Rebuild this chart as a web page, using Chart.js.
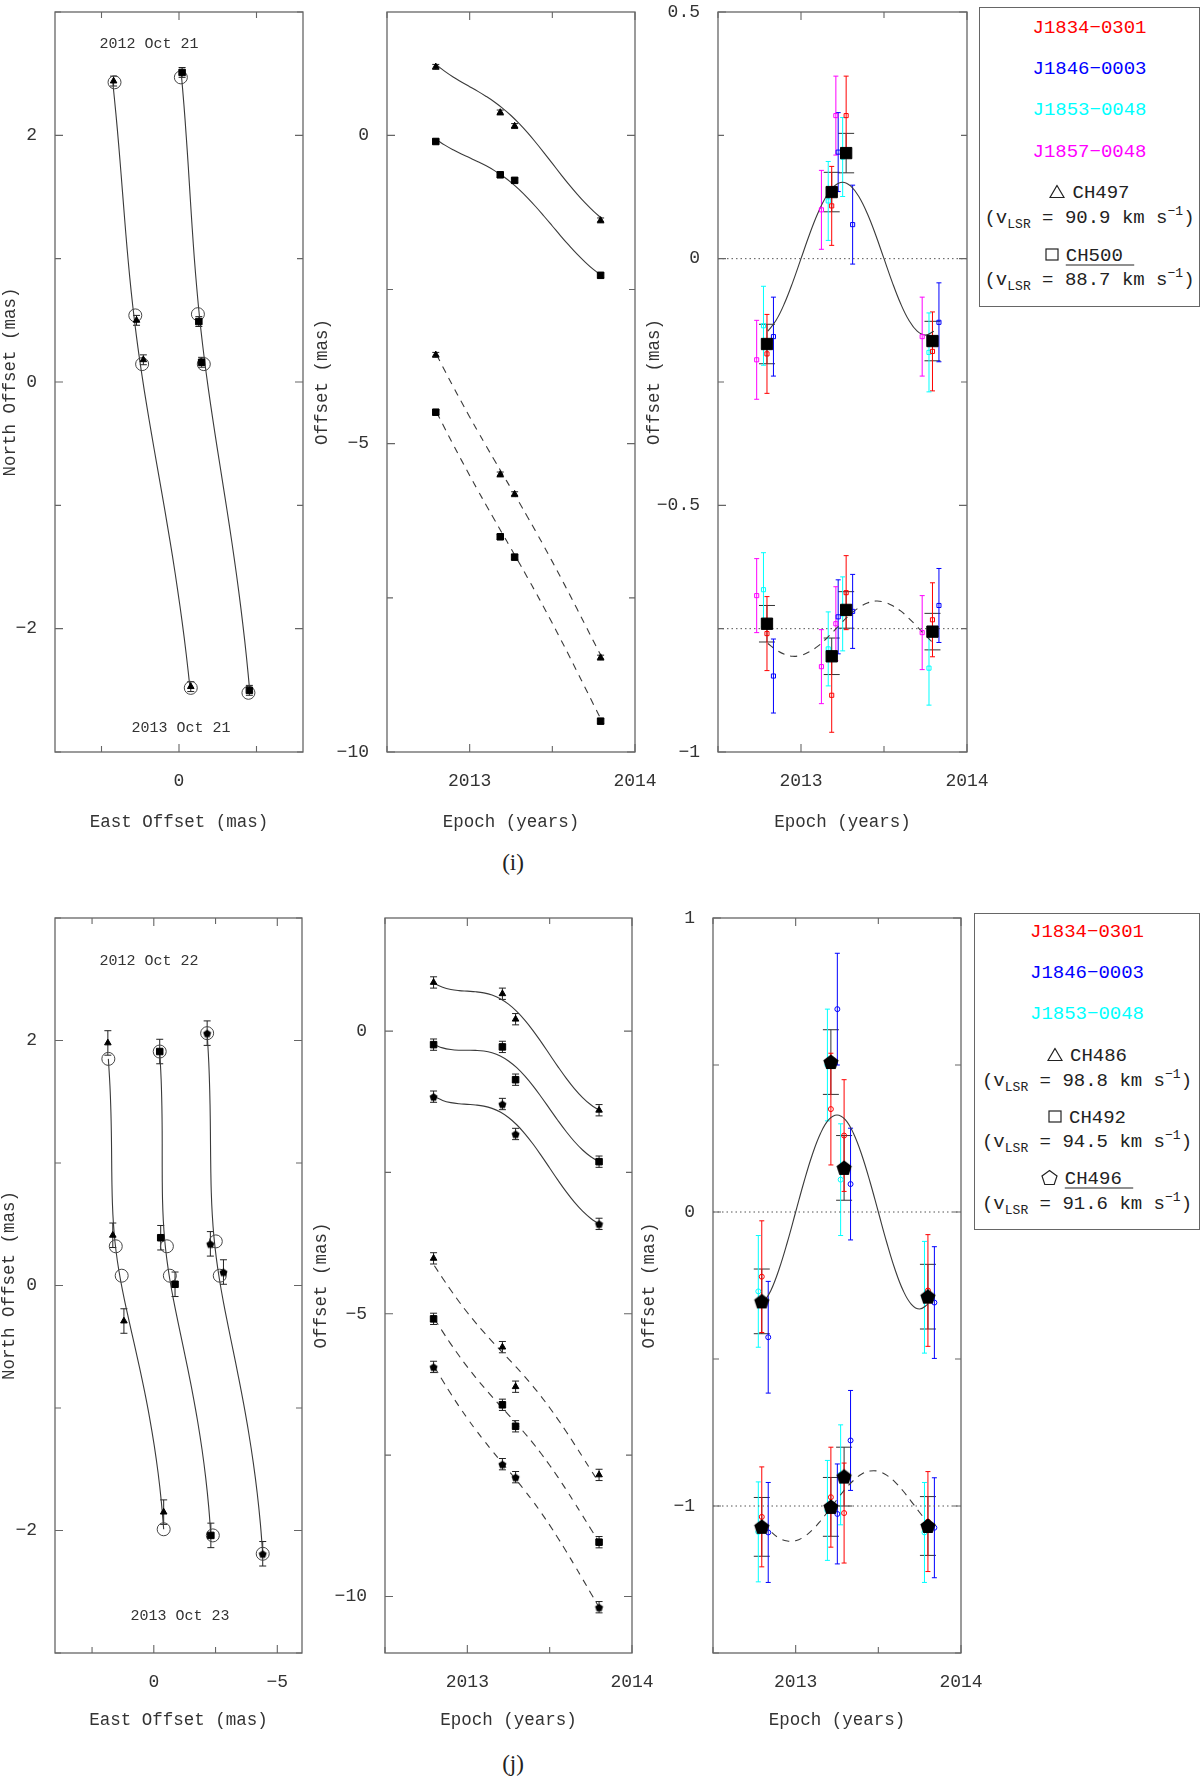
<!DOCTYPE html>
<html><head><meta charset="utf-8">
<script src="https://cdn.jsdelivr.net/npm/chart.js@4.4.1/dist/chart.umd.min.js"></script>
<style>
body{margin:0;background:#fff;width:1200px;height:1781px;position:relative;overflow:hidden;font-family:"Liberation Mono",monospace;color:#222}
.note{position:absolute;white-space:nowrap;transform:translate(-50%,-50%);font:15px "Liberation Mono",monospace;color:#333;line-height:1}
.plab{position:absolute;white-space:nowrap;transform:translate(-50%,-50%);font:23px "Liberation Serif",serif;color:#222;line-height:1}
.legend{position:absolute;border:1.3px solid #666;box-sizing:border-box;background:#fff}
.lrow{position:absolute;left:0;width:100%;text-align:center;transform:translateY(-50%);font:19px "Liberation Mono",monospace;line-height:1;white-space:nowrap}
.sub{font-size:13px;position:relative;top:5px}
.sup{font-size:13px;position:relative;top:-8px}
.ul{text-decoration:underline;text-underline-offset:4px;text-decoration-thickness:1px}
</style></head><body>
<script>
// ================= DATA : panel (i) =================
const modelT = [2012.80,2012.85,2012.90,2012.95,2013.00,2013.05,2013.10,2013.15,2013.20,2013.25,2013.30,2013.35,2013.40,2013.45,2013.50,2013.55,2013.60,2013.65,2013.70,2013.75,2013.80];
const epochsI = [2012.795, 2013.185, 2013.272, 2013.792];
// CH497 (triangles)
const ch497East  = [2.11, 1.37, 1.15, -0.38];
const ch497North = [2.44, 0.50, 0.18, -2.47];
const ch497FitEast  = [2.08, 1.41, 1.19, -0.38];
const ch497FitNorth = [2.43, 0.54, 0.145, -2.48];
const ch497ModelEast  = [2.140,2.038,1.947,1.866,1.789,1.713,1.631,1.541,1.438,1.322,1.189,1.043,0.884,0.717,0.544,0.372,0.204,0.046,-0.101,-0.234,-0.350];
const ch497ModelNorth = [2.440,2.182,1.927,1.678,1.434,1.196,0.961,0.731,0.502,0.275,0.045,-0.188,-0.424,-0.666,-0.913,-1.166,-1.422,-1.683,-1.945,-2.209,-2.470];
// CH500 (squares)
const ch500East  = [-0.10, -0.64, -0.73, -2.27];
const ch500North = [2.51, 0.49, 0.16, -2.50];
const ch500FitEast  = [-0.06, -0.61, -0.80, -2.24];
const ch500FitNorth = [2.47, 0.55, 0.145, -2.52];
const ch500ModelEast  = [-0.070,-0.159,-0.235,-0.303,-0.365,-0.428,-0.495,-0.572,-0.660,-0.763,-0.881,-1.014,-1.158,-1.312,-1.470,-1.629,-1.782,-1.927,-2.059,-2.178,-2.280];
const ch500ModelNorth = [2.510,2.247,1.987,1.733,1.484,1.241,1.001,0.766,0.532,0.300,0.065,-0.173,-0.414,-0.661,-0.913,-1.171,-1.432,-1.698,-1.965,-2.234,-2.500];
const posErrI = [0.04, 0.04, 0.04, 0.04];
const eastShiftI  = [-1, 0];      // display offsets in the epoch panel
const northShiftI = [-6, -7];
// parallax panel (i)
const parEastI  = [-0.147,-0.125,-0.091,-0.048,0.000,0.048,0.091,0.125,0.147,0.155,0.147,0.125,0.091,0.048,0.000,-0.048,-0.091,-0.125,-0.147,-0.155,-0.147];
const parNorthI = [-0.030,-0.043,-0.052,-0.056,-0.054,-0.047,-0.036,-0.021,-0.004,0.014,0.030,0.043,0.052,0.056,0.054,0.047,0.036,0.021,0.004,-0.014,-0.030];
const parNorthShiftI = -0.75;
const resEastAllI  = [-0.173, 0.135, 0.214, -0.167];
const resNorthAllI = [0.010, -0.056, 0.038, -0.006];
const resEastJ1834I  = [-0.193, 0.107, 0.290, -0.188];
const resNorthJ1834I = [-0.010, -0.135, 0.073, 0.018];
const resEastJ1846I  = [-0.158, 0.216, 0.069, -0.129];
const resNorthJ1846I = [-0.096, 0.024, 0.035, 0.047];
const resEastJ1853I  = [-0.136, 0.117, 0.206, -0.190];
const resNorthJ1853I = [0.079, -0.041, 0.030, -0.080];
const resEastJ1857I  = [-0.205, 0.099, 0.290, -0.158];
const resNorthJ1857I = [0.067, -0.077, 0.010, -0.008];
const resErrAllEastI = [0.040,0.040,0.040,0.040];
const resErrAllNorthI = [0.037,0.037,0.037,0.037];
const resErrQsoEastI = [0.080,0.080,0.080,0.080];
const resErrQsoNorthI = [0.075,0.075,0.075,0.075];

// ================= DATA : panel (j) =================
const epochsJ = [2012.795, 2013.213, 2013.293, 2013.800];
const ch486East  = [1.86, 1.66, 1.21, -0.40];
const ch486North = [1.98, 0.41, -0.29, -1.85];
const ch486FitEast  = [1.84, 1.54, 1.30, -0.40];
const ch486FitNorth = [1.85, 0.32, 0.08, -1.99];
const ch486ModelEast  = [1.840,1.775,1.736,1.716,1.706,1.696,1.676,1.637,1.572,1.476,1.348,1.189,1.004,0.800,0.586,0.372,0.168,-0.017,-0.176,-0.304,-0.400];
const ch486ModelNorth = [1.850,1.629,1.415,1.213,1.022,0.843,0.674,0.513,0.357,0.202,0.046,-0.117,-0.287,-0.469,-0.662,-0.867,-1.082,-1.305,-1.533,-1.762,-1.990];
const ch492East  = [-0.24, -0.28, -0.86, -2.31];
const ch492North = [1.91, 0.39, 0.01, -2.04];
const ch492FitEast  = [-0.24, -0.53, -0.65, -2.39];
const ch492FitNorth = [1.91, 0.32, 0.08, -2.04];
const ch492ModelEast  = [-0.240,-0.297,-0.327,-0.339,-0.340,-0.342,-0.353,-0.384,-0.440,-0.528,-0.647,-0.798,-0.974,-1.170,-1.375,-1.581,-1.776,-1.953,-2.103,-2.223,-2.310];
const ch492ModelNorth = [1.910,1.684,1.464,1.257,1.060,0.876,0.701,0.535,0.373,0.213,0.051,-0.118,-0.293,-0.481,-0.679,-0.890,-1.110,-1.339,-1.572,-1.807,-2.040];
const ch496East  = [-2.16, -2.29, -2.82, -4.41];
const ch496North = [2.06, 0.34, 0.11, -2.19];
const ch496FitEast  = [-2.16, -2.51, -2.67, -4.41];
const ch496FitNorth = [2.06, 0.36, 0.08, -2.19];
const ch496ModelEast  = [-2.160,-2.226,-2.265,-2.286,-2.296,-2.307,-2.327,-2.367,-2.432,-2.529,-2.657,-2.817,-3.002,-3.207,-3.421,-3.636,-3.840,-4.026,-4.185,-4.314,-4.410];
const ch496ModelNorth = [2.060,1.819,1.584,1.362,1.150,0.951,0.761,0.580,0.403,0.228,0.051,-0.133,-0.323,-0.526,-0.739,-0.965,-1.200,-1.444,-1.692,-1.942,-2.190];
const posErrJ = [0.10, 0.10, 0.10, 0.10];
const eastShiftJ  = [-1, 0, 1];
const northShiftJ = [-6, -7, -8];
const parEastJ  = [-0.314,-0.267,-0.194,-0.102,0.000,0.102,0.194,0.267,0.314,0.330,0.314,0.267,0.194,0.102,0.000,-0.102,-0.194,-0.267,-0.314,-0.330,-0.314];
const parNorthJ = [-0.058,-0.087,-0.109,-0.119,-0.118,-0.105,-0.082,-0.051,-0.015,0.022,0.058,0.087,0.109,0.119,0.118,0.105,0.082,0.051,0.015,-0.022,-0.058];
const parNorthShiftJ = -1;
const resEastAllJ  = [-0.304, 0.510, 0.150, -0.288];
const resNorthAllJ = [-0.071, -0.003, 0.100, -0.068];
const resEastJ1834J  = [-0.220, 0.350, 0.260, -0.267];
const resNorthJ1834J = [-0.037, 0.030, -0.024, -0.053];
const resEastJ1846J  = [-0.426, 0.690, 0.095, -0.308];
const resNorthJ1846J = [-0.090, -0.027, 0.223, -0.074];
const resEastJ1853J  = [-0.270, 0.500, 0.110, -0.290];
const resNorthJ1853J = [-0.088, -0.015, 0.106, -0.090];
const resErrAllEastJ = [0.11,0.11,0.11,0.11];
const resErrAllNorthJ = [0.10,0.10,0.10,0.10];
const resErrQsoEastJ = [0.19,0.19,0.19,0.19];
const resErrQsoNorthJ = [0.17,0.17,0.17,0.17];

// QSO epoch offsets (plotting stagger, years) and colours
const qsoNames = ['J1834\u22120301','J1846\u22120003','J1853\u22120048','J1857\u22120048'];
const qsoColors = ['#ff0000','#0000ff','#00ffff','#ff00ff'];
const qsoDt = [0, 0.039, -0.021, -0.062];

// axis ticks
const posYTicks = [-3,-2,-1,0,1,2,3], posYLabels = [-2,0,2];
const eastTicksI = [-2.5,0,2.5], eastLabelsI = [0];
const eastTicksJ = [-5,-2.5,0,2.5], eastLabelsJ = [-5,0];
const epochTicks = [2012.5,2013,2013.5,2014], epochLabels = [2013,2014];
const offTicksI = [-10,-7.5,-5,-2.5,0], offLabelsI = [-10,-5,0];
const offTicksJ = [-10,-7.5,-5,-2.5,0], offLabelsJ = [-10,-5,0];
const parTicksI = [-1,-0.75,-0.5,-0.25,0,0.25,0.5], parLabelsI = [-1,-0.5,0,0.5];
const parTicksJ = [-1.5,-1,-0.5,0,0.5,1], parLabelsJ = [-1,0,1];

// ================= RENDERING =================
const FONT = "'Liberation Mono','DejaVu Sans Mono',monospace";
const MINUS = '\u2212';
const Y_W = 80, X_H = 79;
const PAD = {left: 4, right: 34, top: 14, bottom: 4};
const fmt = v => String(Math.round(v * 1000) / 1000).replace('-', MINUS);
const isIn = (arr, v) => arr.some(a => Math.abs(a - v) < 1e-6);

const framePlugin = {
  id: 'frame',
  afterDraw(chart, args, opts) {
    const {ctx, chartArea: a, scales} = chart;
    ctx.save();
    ctx.strokeStyle = '#666'; ctx.lineWidth = 1.3;
    ctx.strokeRect(a.left, a.top, a.right - a.left, a.bottom - a.top);
    ctx.lineWidth = 1.1;
    [['x', opts.xLab], ['y', opts.yLab]].forEach(([k, lab]) => {
      const s = scales[k];
      s.ticks.forEach(t => {
        const p = s.getPixelForValue(t.value);
        const len = isIn(lab, t.value) ? 8 : 6;
        ctx.beginPath();
        if (k === 'x') {
          ctx.moveTo(p, a.bottom); ctx.lineTo(p, a.bottom - len);
          ctx.moveTo(p, a.top); ctx.lineTo(p, a.top + len);
        } else {
          ctx.moveTo(a.left, p); ctx.lineTo(a.left + len, p);
          ctx.moveTo(a.right, p); ctx.lineTo(a.right - len, p);
        }
        ctx.stroke();
      });
    });
    ctx.restore();
  }
};
const errPlugin = {
  id: 'errbars',
  beforeDatasetsDraw(chart) {
    const {ctx, scales: {x, y}} = chart;
    chart.data.datasets.forEach(ds => {
      if (!ds.errY) return;
      ctx.save();
      ctx.strokeStyle = ds.errColor; ctx.lineWidth = ds.errWidth || 1;
      ds.data.forEach((p, i) => {
        const e = ds.errY[i], px = x.getPixelForValue(p.x);
        const y1 = y.getPixelForValue(p.y - e), y2 = y.getPixelForValue(p.y + e);
        ctx.beginPath();
        ctx.moveTo(px, y1); ctx.lineTo(px, y2);
        ctx.moveTo(px - ds.capW, y1); ctx.lineTo(px + ds.capW, y1);
        ctx.moveTo(px - ds.capW, y2); ctx.lineTo(px + ds.capW, y2);
        ctx.stroke();
      });
      ctx.restore();
    });
  }
};

function axisCfg(o, isX) {
  return {
    type: 'linear', min: o.min, max: o.max, reverse: !!o.reverse,
    grid: {display: false}, border: {display: false},
    afterBuildTicks: s => { s.ticks = o.ticks.map(v => ({value: v})); },
    afterFit: s => { if (isX) s.height = X_H; else s.width = Y_W; },
    ticks: {autoSkip: false, maxRotation: 0, minRotation: 0, padding: isX ? 12 : 10, color: '#333',
      font: {family: FONT, size: 18, lineHeight: 1},
      callback: v => isIn(o.labels, v) ? fmt(v) : ''},
    title: {display: true, text: o.title, color: '#333', font: {family: FONT, size: 17.5, lineHeight: 1}, padding: o.titlePad}
  };
}

function makePanel(frame, xo, yo, datasets) {
  const W = PAD.left + Y_W + frame.w + PAD.right;
  const H = PAD.top + frame.h + X_H + PAD.bottom;
  const c = document.createElement('canvas');
  c.style.position = 'absolute';
  c.style.left = (frame.x - Y_W - PAD.left) + 'px';
  c.style.top = (frame.y - PAD.top) + 'px';
  c.style.width = W + 'px'; c.style.height = H + 'px';
  c.width = W; c.height = H;
  document.body.appendChild(c);
  return new Chart(c, {
    type: 'scatter',
    data: {datasets},
    options: {
      responsive: false, animation: false,
      layout: {padding: PAD},
      plugins: {legend: {display: false}, tooltip: {enabled: false}, frame: {xLab: xo.labels, yLab: yo.labels}},
      scales: {x: axisCfg(xo, true), y: axisCfg(yo, false)}
    },
    plugins: [errPlugin, framePlugin]
  });
}

// marker helpers
function pentagon(R, fill, stroke, lw) {
  const s = Math.ceil(2 * R + 2 * (lw || 0) + 2);
  const c = document.createElement('canvas'); c.width = s; c.height = s;
  const g = c.getContext('2d'); g.beginPath();
  for (let k = 0; k < 5; k++) {
    const an = -Math.PI / 2 + k * 2 * Math.PI / 5;
    const px = s / 2 + R * Math.cos(an), py = s / 2 + 0.6 + R * Math.sin(an);
    if (k) g.lineTo(px, py); else g.moveTo(px, py);
  }
  g.closePath();
  if (fill) { g.fillStyle = fill; g.fill(); }
  if (stroke) { g.strokeStyle = stroke; g.lineWidth = lw; g.stroke(); }
  return c;
}
const pentSmall = pentagon(4.2, '#000');
const pentBig = pentagon(8, '#000');

const pts = (xs, ys, shift = 0, dx = 0) => xs.map((x, i) => ({x: x + dx, y: ys[i] + shift}));
const pairs = (xs, ys) => xs.map((x, i) => ({x, y: ys[i]}));
function curve(data, dash) {
  return {data, showLine: true, pointRadius: 0, pointHoverRadius: 0, borderColor: '#3a3a3a', borderWidth: 1.1,
          tension: 0.4, borderDash: dash || [], fill: false, order: 10};
}
function refLine(y0, x0, x1) {
  return {data: [{x: x0, y: y0}, {x: x1, y: y0}], showLine: true, pointRadius: 0, borderColor: '#555',
          borderWidth: 1, borderDash: [1.5, 3], order: 11};
}
function marks(data, style, r, opt = {}) {
  return Object.assign({data, showLine: false, pointStyle: style, pointRadius: r, pointHoverRadius: r,
    backgroundColor: '#000', borderColor: '#000', borderWidth: 1, order: 1}, opt);
}
const circles = data => marks(data, 'circle', 6.5, {backgroundColor: 'rgba(0,0,0,0)', borderColor: '#444', borderWidth: 1, order: 3});
const DASH = [7, 6];

// -------- Panel (i) --------
makePanel({x: 55, y: 7, w: 248, h: 745},
  {min: -4, max: 4, reverse: true, ticks: eastTicksI, labels: eastLabelsI, title: 'East Offset (mas)', titlePad: {top: 31, bottom: 0}},
  {min: -3, max: 3, ticks: posYTicks, labels: posYLabels, title: 'North Offset (mas)', titlePad: {top: 27, bottom: 0}},
  [
    curve(pairs(ch497ModelEast, ch497ModelNorth)),
    curve(pairs(ch500ModelEast, ch500ModelNorth)),
    circles(pairs(ch497FitEast, ch497FitNorth)),
    circles(pairs(ch500FitEast, ch500FitNorth)),
    marks(pairs(ch497East, ch497North), 'triangle', 3.8, {errY: posErrI, errColor: '#222', capW: 3.5}),
    marks(pairs(ch500East, ch500North), 'rect', 4.6, {errY: posErrI, errColor: '#222', capW: 3.5})
  ]);

makePanel({x: 387, y: 7, w: 248, h: 745},
  {min: 2012.5, max: 2014, ticks: epochTicks, labels: epochLabels, title: 'Epoch (years)', titlePad: {top: 31, bottom: 0}},
  {min: -10, max: 2, ticks: offTicksI, labels: offLabelsI, title: 'Offset (mas)', titlePad: {top: 7, bottom: 0}},
  [
    curve(pts(modelT, ch497ModelEast, eastShiftI[0])),
    curve(pts(modelT, ch500ModelEast, eastShiftI[1])),
    curve(pts(modelT, ch497ModelNorth, northShiftI[0]), DASH),
    curve(pts(modelT, ch500ModelNorth, northShiftI[1]), DASH),
    marks(pts(epochsI, ch497East, eastShiftI[0]), 'triangle', 3.8, {errY: posErrI, errColor: '#222', capW: 3.5}),
    marks(pts(epochsI, ch500East, eastShiftI[1]), 'rect', 4.6, {errY: posErrI, errColor: '#222', capW: 3.5}),
    marks(pts(epochsI, ch497North, northShiftI[0]), 'triangle', 3.8, {errY: posErrI, errColor: '#222', capW: 3.5}),
    marks(pts(epochsI, ch500North, northShiftI[1]), 'rect', 4.6, {errY: posErrI, errColor: '#222', capW: 3.5})
  ]);

(function () {
  const qE = [resEastJ1834I, resEastJ1846I, resEastJ1853I, resEastJ1857I];
  const qN = [resNorthJ1834I, resNorthJ1846I, resNorthJ1853I, resNorthJ1857I];
  const ds = [refLine(0, 2012.5, 2014), refLine(parNorthShiftI, 2012.5, 2014),
    curve(pts(modelT, parEastI)), curve(pts(modelT, parNorthI, parNorthShiftI), DASH)];
  ds.push(marks(pts(epochsI, resEastAllI), 'rect', 8, {errY: resErrAllEastI, errColor: '#333', capW: 8, order: 0}));
  ds.push(marks(pts(epochsI, resNorthAllI, parNorthShiftI), 'rect', 8, {errY: resErrAllNorthI, errColor: '#333', capW: 8, order: 0}));
  qE.forEach((arr, q) => {
    const o = {backgroundColor: 'rgba(0,0,0,0)', borderColor: qsoColors[q], borderWidth: 1, errColor: qsoColors[q], capW: 2.5, order: 5};
    ds.push(marks(pts(epochsI, arr, 0, qsoDt[q]), 'rect', 2.9, Object.assign({errY: resErrQsoEastI}, o)));
    ds.push(marks(pts(epochsI, qN[q], parNorthShiftI, qsoDt[q]), 'rect', 2.9, Object.assign({errY: resErrQsoNorthI}, o)));
  });
  makePanel({x: 718, y: 7, w: 249, h: 745},
    {min: 2012.5, max: 2014, ticks: epochTicks, labels: epochLabels, title: 'Epoch (years)', titlePad: {top: 31, bottom: 0}},
    {min: -1, max: 0.5, ticks: parTicksI, labels: parLabelsI, title: 'Offset (mas)', titlePad: {top: 8, bottom: 0}},
    ds);
})();

// -------- Panel (j) --------
makePanel({x: 55, y: 913, w: 247, h: 740},
  {min: -6, max: 4, reverse: true, ticks: eastTicksJ, labels: eastLabelsJ, title: 'East Offset (mas)', titlePad: {top: 28, bottom: 3}},
  {min: -3, max: 3, ticks: posYTicks, labels: posYLabels, title: 'North Offset (mas)', titlePad: {top: 26, bottom: 0}},
  [
    curve(pairs(ch486ModelEast, ch486ModelNorth)),
    curve(pairs(ch492ModelEast, ch492ModelNorth)),
    curve(pairs(ch496ModelEast, ch496ModelNorth)),
    circles(pairs(ch486FitEast, ch486FitNorth)),
    circles(pairs(ch492FitEast, ch492FitNorth)),
    circles(pairs(ch496FitEast, ch496FitNorth)),
    marks(pairs(ch486East, ch486North), 'triangle', 3.8, {errY: posErrJ, errColor: '#222', capW: 3.5}),
    marks(pairs(ch492East, ch492North), 'rect', 4.6, {errY: posErrJ, errColor: '#222', capW: 3.5}),
    marks(pairs(ch496East, ch496North), pentSmall, 4.2, {errY: posErrJ, errColor: '#222', capW: 3.5})
  ]);

makePanel({x: 385, y: 913, w: 247, h: 740},
  {min: 2012.5, max: 2014, ticks: epochTicks, labels: epochLabels, title: 'Epoch (years)', titlePad: {top: 28, bottom: 3}},
  {min: -11, max: 2, ticks: offTicksJ, labels: offLabelsJ, title: 'Offset (mas)', titlePad: {top: 8, bottom: 0}},
  [
    curve(pts(modelT, ch486ModelEast, eastShiftJ[0])),
    curve(pts(modelT, ch492ModelEast, eastShiftJ[1])),
    curve(pts(modelT, ch496ModelEast, eastShiftJ[2])),
    curve(pts(modelT, ch486ModelNorth, northShiftJ[0]), DASH),
    curve(pts(modelT, ch492ModelNorth, northShiftJ[1]), DASH),
    curve(pts(modelT, ch496ModelNorth, northShiftJ[2]), DASH),
    marks(pts(epochsJ, ch486East, eastShiftJ[0]), 'triangle', 3.8, {errY: posErrJ, errColor: '#222', capW: 3.5}),
    marks(pts(epochsJ, ch492East, eastShiftJ[1]), 'rect', 4.6, {errY: posErrJ, errColor: '#222', capW: 3.5}),
    marks(pts(epochsJ, ch496East, eastShiftJ[2]), pentSmall, 4.2, {errY: posErrJ, errColor: '#222', capW: 3.5}),
    marks(pts(epochsJ, ch486North, northShiftJ[0]), 'triangle', 3.8, {errY: posErrJ, errColor: '#222', capW: 3.5}),
    marks(pts(epochsJ, ch492North, northShiftJ[1]), 'rect', 4.6, {errY: posErrJ, errColor: '#222', capW: 3.5}),
    marks(pts(epochsJ, ch496North, northShiftJ[2]), pentSmall, 4.2, {errY: posErrJ, errColor: '#222', capW: 3.5})
  ]);

(function () {
  const qE = [resEastJ1834J, resEastJ1846J, resEastJ1853J];
  const qN = [resNorthJ1834J, resNorthJ1846J, resNorthJ1853J];
  const ds = [refLine(0, 2012.5, 2014), refLine(parNorthShiftJ, 2012.5, 2014),
    curve(pts(modelT, parEastJ)), curve(pts(modelT, parNorthJ, parNorthShiftJ), DASH)];
  ds.push(marks(pts(epochsJ, resEastAllJ), pentBig, 8, {errY: resErrAllEastJ, errColor: '#333', capW: 8, order: 0}));
  ds.push(marks(pts(epochsJ, resNorthAllJ, parNorthShiftJ), pentBig, 8, {errY: resErrAllNorthJ, errColor: '#333', capW: 8, order: 0}));
  qE.forEach((arr, q) => {
    const o = {backgroundColor: 'rgba(0,0,0,0)', borderColor: qsoColors[q], borderWidth: 1, errColor: qsoColors[q], capW: 2.5, order: 5};
    ds.push(marks(pts(epochsJ, arr, 0, qsoDt[q]), 'circle', 2.5, Object.assign({errY: resErrQsoEastJ}, o)));
    ds.push(marks(pts(epochsJ, qN[q], parNorthShiftJ, qsoDt[q]), 'circle', 2.5, Object.assign({errY: resErrQsoNorthJ}, o)));
  });
  makePanel({x: 713, y: 913, w: 248, h: 740},
    {min: 2012.5, max: 2014, ticks: epochTicks, labels: epochLabels, title: 'Epoch (years)', titlePad: {top: 28, bottom: 3}},
    {min: -1.5, max: 1, ticks: parTicksJ, labels: parLabelsJ, title: 'Offset (mas)', titlePad: {top: 8, bottom: 0}},
    ds);
})();

// -------- text overlays --------
function note(cls, text, x, y) {
  const d = document.createElement('div'); d.className = cls; d.textContent = text;
  d.style.left = x + 'px'; d.style.top = y + 'px'; document.body.appendChild(d);
}
note('note', '2012 Oct 21', 149, 44);
note('note', '2013 Oct 21', 181, 728);
note('note', '2012 Oct 22', 149, 961);
note('note', '2013 Oct 23', 180, 1616);
note('plab', '(i)', 513, 862);
note('plab', '(j)', 513, 1763);

const SYM = {
  tri: '<svg width="16" height="14" viewBox="0 0 16 14" style="vertical-align:-1px;margin-right:7px"><polygon points="8,1 15,13 1,13" fill="none" stroke="#222" stroke-width="1.2"/></svg>',
  sq: '<svg width="14" height="14" viewBox="0 0 14 14" style="vertical-align:-1px;margin-right:7px"><rect x="1" y="1.5" width="12" height="11" fill="none" stroke="#222" stroke-width="1.2"/></svg>',
  pent: '<svg width="17" height="16" viewBox="0 0 17 16" style="vertical-align:-2px;margin-right:7px"><polygon points="8.5,1 16,6.5 13.2,15 3.8,15 1,6.5" fill="none" stroke="#222" stroke-width="1.2"/></svg>'
};
const vlsr = v => `(v<span class="sub">LSR</span> = ${v} km s<span class="sup">${MINUS}1</span>)`;
function legend(box, rows) {
  const d = document.createElement('div'); d.className = 'legend';
  d.style.cssText = `left:${box.x}px;top:${box.y}px;width:${box.w}px;height:${box.h}px`;
  rows.forEach(r => {
    const e = document.createElement('div'); e.className = 'lrow';
    e.style.top = (r.y - box.y - 1.3) + 'px'; e.style.color = r.color || '#222'; e.innerHTML = r.html;
    d.appendChild(e);
  });
  document.body.appendChild(d);
}
legend({x: 979, y: 7, w: 221, h: 300}, [
  {y: 28, html: qsoNames[0], color: qsoColors[0]},
  {y: 69, html: qsoNames[1], color: qsoColors[1]},
  {y: 110, html: qsoNames[2], color: qsoColors[2]},
  {y: 152, html: qsoNames[3], color: qsoColors[3]},
  {y: 193, html: SYM.tri + 'CH497'},
  {y: 218, html: vlsr('90.9')},
  {y: 256, html: SYM.sq + '<span class="ul">CH500\u00a0</span>'},
  {y: 280, html: vlsr('88.7')}
]);
legend({x: 974, y: 913, w: 226, h: 317}, [
  {y: 932, html: qsoNames[0], color: qsoColors[0]},
  {y: 973, html: qsoNames[1], color: qsoColors[1]},
  {y: 1014, html: qsoNames[2], color: qsoColors[2]},
  {y: 1056, html: SYM.tri + 'CH486'},
  {y: 1081, html: vlsr('98.8')},
  {y: 1118, html: SYM.sq + 'CH492'},
  {y: 1142, html: vlsr('94.5')},
  {y: 1179, html: SYM.pent + '<span class="ul">CH496\u00a0</span>'},
  {y: 1204, html: vlsr('91.6')}
]);
</script>
</body></html>
